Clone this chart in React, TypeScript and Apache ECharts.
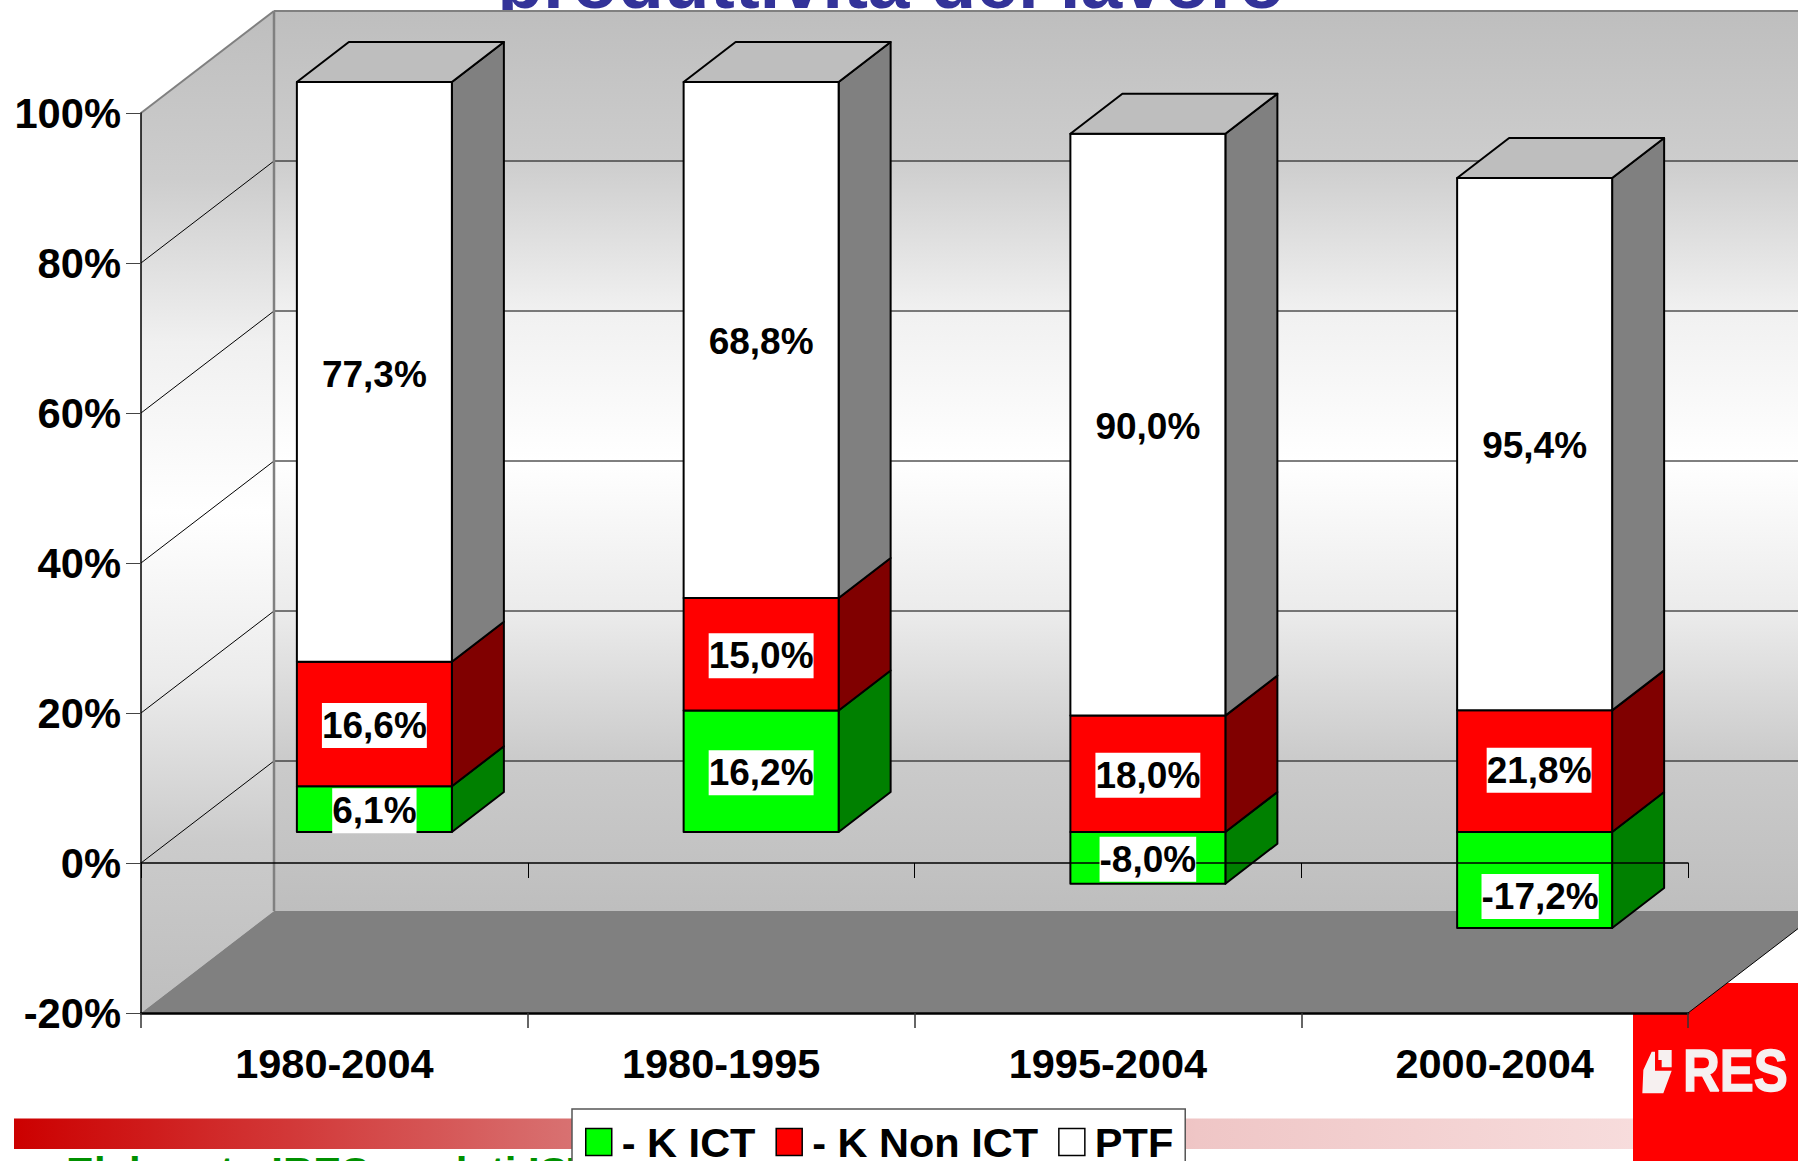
import React, { useEffect, useRef } from "react";
import * as echarts from "echarts";

const categories = ["1980-2004", "1980-1995", "1995-2004", "2000-2004"];
const kIct = [6.1, 16.2, -8.0, -17.2];
const kNonIct = [16.6, 15.0, 18.0, 21.8];
const ptf = [77.3, 68.8, 90.0, 95.4];
const titleText = "produttività del lavoro";
const sourceText = "Elaborato IRES su dati ISTAT";
const logoText = "RES";
const gridTicks = [0, 20, 40, 60, 80];

const FONT = '"Liberation Sans", Arial, sans-serif';
const W = 1798, H = 1161;
const G = { left: 141, top: 113, right: 1688, bottom: 1013 };
const WALL_DX = 133, WALL_DY = 102;
const FACE_DX = 40, FACE_DY = 31;
const BAR_DX = 52, BAR_DY = 40;
const BAR_RATIO = 155 / 386.75;
const yOf = (v: number) => G.bottom - ((v + 20) / 120) * (G.bottom - G.top);

const stacks = categories.map((_, i) => {
  const total = Math.abs(kIct[i]) + Math.abs(kNonIct[i]) + Math.abs(ptf[i]);
  const a = (kIct[i] / total) * 100, b = (kNonIct[i] / total) * 100, c = (ptf[i] / total) * 100;
  const s0 = a > 0 ? a : 0;
  return { a: [0, a], b: [s0, s0 + b], c: [s0 + b, s0 + b + c] };
});

const LABEL_NUDGE: Record<string, [number, number]> = { "3-0": [5.5, 15], "3-1": [4.5, -2.5], "0-2": [0, 1.5] };
const fmt = (v: number) => v.toFixed(1).replace(".", ",") + "%";

function barItem(front: string, side: string, withTop: boolean) {
  return (_p: any, api: any) => {
    const cat = api.value(0);
    const p0 = api.coord([cat, api.value(1)]);
    const p1 = api.coord([cat, api.value(2)]);
    const w = api.size([1, 0])[0] * BAR_RATIO;
    const x0 = p0[0] - w / 2 + FACE_DX, x1 = x0 + w;
    const ya = p0[1] - FACE_DY, yb = p1[1] - FACE_DY;
    const stroke = { stroke: "#000", lineWidth: 2, lineJoin: "round" };
    const children: any[] = [
      { type: "polygon", shape: { points: [[x1, ya], [x1 + BAR_DX, ya - BAR_DY], [x1 + BAR_DX, yb - BAR_DY], [x1, yb]] }, style: { fill: side, ...stroke } },
      { type: "rect", shape: { x: Math.min(x0, x1), y: Math.min(ya, yb), width: w, height: Math.abs(yb - ya) }, style: { fill: front, ...stroke } },
    ];
    if (withTop) {
      const yt = Math.min(ya, yb);
      children.push({ type: "polygon", shape: { points: [[x0, yt], [x0 + BAR_DX, yt - BAR_DY], [x1 + BAR_DX, yt - BAR_DY], [x1, yt]] }, style: { fill: "#bebebe", ...stroke } });
    }
    return { type: "group", children };
  };
}

function labelItem(_p: any, api: any) {
  const cat = api.value(0);
  const p0 = api.coord([cat, api.value(1)]);
  const p1 = api.coord([cat, api.value(2)]);
  const key = `${cat}-${api.value(4)}`;
  const n = LABEL_NUDGE[key] || [0, 0];
  return {
    type: "text",
    style: {
      text: fmt(api.value(3)),
      x: p0[0] + FACE_DX + n[0],
      y: (p0[1] + p1[1]) / 2 - FACE_DY + n[1] + 1.5,
      align: "center",
      verticalAlign: "middle",
      fontSize: 37,
      fontWeight: "bold",
      fontFamily: FONT,
      fill: "#000",
      backgroundColor: "#fff",
      lineHeight: 45,
    },
  };
}

function buildGraphic() {
  const els: any[] = [];
  const stops = [
    { offset: 0, color: "#bebebe" }, { offset: 0.167, color: "#cdcdcd" }, { offset: 0.33, color: "#f0f0f0" },
    { offset: 0.5, color: "#ffffff" }, { offset: 0.67, color: "#ebebeb" }, { offset: 0.83, color: "#cbcbcb" }, { offset: 1, color: "#bebebe" },
  ];
  const wallGrad = { type: "linear", global: true, x: 273, y: 11, x2: 273, y2: 910, colorStops: stops };
  const sideGrad = { type: "linear", global: true, x: 273, y: 11, x2: 273, y2: 1013, colorStops: stops };
  const farRight = G.right + WALL_DX;
  const backTop = G.top - WALL_DY, backBottom = G.bottom - WALL_DY, backLeft = G.left + WALL_DX;

  els.push({ type: "text", x: 891, y: 19, style: { text: titleText, font: `bold 75px ${FONT}`, fill: "#333399", align: "center", verticalAlign: "bottom" } });

  els.push({
    type: "rect", shape: { x: 14, y: 1118.5, width: 1620, height: 30.5 },
    style: {
      fill: { type: "linear", x: 0, y: 0, x2: 1, y2: 0, colorStops: [
        { offset: 0, color: "#cc0000" }, { offset: 0.34, color: "#d87070" }, { offset: 0.73, color: "#efc6c6" }, { offset: 1, color: "#f7dcdc" },
      ] },
    },
  });
  els.push({ type: "text", x: 66, y: 1151, style: { text: sourceText, font: `bold 42px ${FONT}`, fill: "#009000", align: "left", verticalAlign: "top" } });

  els.push({ type: "rect", shape: { x: 1633, y: 983, width: 165, height: 178 }, style: { fill: "#ff0000" } });
  const lx = (p: number) => 1620 + p / 3, ly = (p: number) => 980 + p / 3;
  els.push({ type: "polygon", shape: { points: [[67, 340], [70, 270], [95, 215], [105, 215], [105, 272], [155, 272], [130, 340]].map(([a, b]) => [lx(a), ly(b)]) }, style: { fill: "#f6f0f0" } });
  els.push({ type: "polygon", shape: { points: [[115, 210], [155, 210], [155, 262], [125, 262], [125, 240], [115, 240]].map(([a, b]) => [lx(a), ly(b)]) }, style: { fill: "#f6f0f0" } });
  els.push({ type: "text", x: 1683, y: 1041, scaleX: 0.85, style: { text: logoText, font: `bold 60px ${FONT}`, fill: "#f6f0f0", stroke: "#f6f0f0", lineWidth: 1.5, align: "left", verticalAlign: "top" } });

  els.push({ type: "rect", shape: { x: backLeft, y: backTop, width: farRight - backLeft, height: backBottom - backTop }, style: { fill: wallGrad } });
  els.push({ type: "polygon", shape: { points: [[G.left, G.top], [backLeft, backTop], [backLeft, backBottom], [G.left, G.bottom]] }, style: { fill: sideGrad } });
  els.push({ type: "polygon", shape: { points: [[G.left, G.bottom], [backLeft, backBottom], [farRight, backBottom], [G.right, G.bottom]] }, style: { fill: "#808080" } });

  gridTicks.forEach((v) => {
    const y = yOf(v);
    els.push({ type: "line", shape: { x1: G.left, y1: y, x2: backLeft, y2: y - WALL_DY }, style: { stroke: "#000", lineWidth: 1 } });
    els.push({ type: "line", shape: { x1: backLeft, y1: y - WALL_DY, x2: farRight, y2: y - WALL_DY }, style: { stroke: "#000", lineWidth: 1 } });
  });
  const edge = { stroke: "#808080", lineWidth: 2 };
  els.push({ type: "line", shape: { x1: backLeft, y1: backTop, x2: farRight, y2: backTop }, style: edge });
  els.push({ type: "line", shape: { x1: backLeft, y1: backTop, x2: backLeft, y2: backBottom }, style: { stroke: "#808080", lineWidth: 2.5 } });
  els.push({ type: "line", shape: { x1: G.left, y1: G.top, x2: backLeft, y2: backTop }, style: edge });
  els.push({ type: "line", shape: { x1: G.right, y1: G.bottom, x2: farRight, y2: backBottom }, style: { stroke: "#000", lineWidth: 1 } });
  return els;
}

export default function App() {
  const ref = useRef<HTMLDivElement>(null);
  useEffect(() => {
    document.body.style.margin = "0";
    const chart = echarts.init(ref.current!, undefined, { renderer: "svg" });
    const dims = { x: 0, y: [1, 2] };
    const mk = (name: string, arr: number[], key: "a" | "b" | "c", front: string, side: string, top: boolean) => ({
      type: "custom", name, xAxisIndex: 1, yAxisIndex: 0, z: 10, clip: false, silent: true,
      itemStyle: { color: front },
      encode: dims,
      renderItem: barItem(front, side, top),
      data: categories.map((_, i) => [i, stacks[i][key][0], stacks[i][key][1], arr[i]]),
    });
    const labelData: number[][] = [];
    [kIct, kNonIct, ptf].forEach((arr, s) => {
      const key = (["a", "b", "c"] as const)[s];
      categories.forEach((_, i) => labelData.push([i, stacks[i][key][0], stacks[i][key][1], arr[i], s]));
    });
    const legendNames = ["- K ICT", "- K Non ICT", "PTF"];
    const legendColors = ["#00ff00", "#ff0000", "#ffffff"];
    chart.setOption({
      animation: false,
      grid: { left: G.left, top: G.top, width: G.right - G.left, height: G.bottom - G.top },
      graphic: { elements: buildGraphic() },
      legend: {
        show: true,
        left: 572, top: 1109,
        padding: [12, 12, 20, 13],
        backgroundColor: "#fff",
        borderColor: "#555",
        borderWidth: 1.5,
        borderRadius: 0,
        itemWidth: 26, itemHeight: 27, itemGap: 20,
        selectedMode: false,
        z: 30,
        data: legendNames.map((name, i) => ({
          name, icon: "rect",
          itemStyle: { color: legendColors[i], borderColor: "#000", borderWidth: 1.5 },
        })),
        textStyle: { fontSize: 41.5, fontWeight: "bold", fontFamily: FONT, color: "#000", padding: [0, 0, 0, 5] },
      },
      xAxis: [
        {
          type: "category", data: categories, position: "bottom", z: 15,
          axisLine: { show: true, onZero: true, lineStyle: { color: "#000", width: 1.5 } },
          axisTick: { show: true, length: 15, lineStyle: { color: "#000", width: 1 } },
          axisLabel: { show: false },
          splitLine: { show: false },
        },
        {
          type: "category", data: categories, position: "bottom", z: 5,
          axisLine: { show: true, onZero: false, lineStyle: { color: "#000", width: 2.5 } },
          axisTick: { show: true, length: 15, lineStyle: { color: "#333", width: 1.5 } },
          axisLabel: { show: true, interval: 0, margin: 29, fontSize: 41.5, fontWeight: "bold", fontFamily: FONT, color: "#000" },
          splitLine: { show: false },
        },
      ],
      yAxis: {
        type: "value", min: -20, max: 100, interval: 20, z: 5,
        axisLine: { show: true, lineStyle: { color: "#000", width: 1.5 } },
        axisTick: { show: true, length: 15, lineStyle: { color: "#444", width: 1 } },
        axisLabel: { margin: 20, fontSize: 41.7, fontWeight: "bold", fontFamily: FONT, color: "#000", formatter: "{value}%", padding: [2, 0, 0, 0] },
        splitLine: { show: false },
      },
      series: [
        mk(legendNames[0], kIct, "a", "#00ff00", "#008000", false),
        mk(legendNames[1], kNonIct, "b", "#ff0000", "#800000", false),
        mk(legendNames[2], ptf, "c", "#ffffff", "#808080", true),
        {
          type: "custom", name: "labels", xAxisIndex: 1, yAxisIndex: 0, z: 20, clip: false, silent: true,
          encode: dims, renderItem: labelItem, data: labelData,
        },
      ],
    });
    return () => chart.dispose();
  }, []);
  return <div ref={ref} style={{ position: "absolute", left: 0, top: 0, width: W, height: H }} />;
}
